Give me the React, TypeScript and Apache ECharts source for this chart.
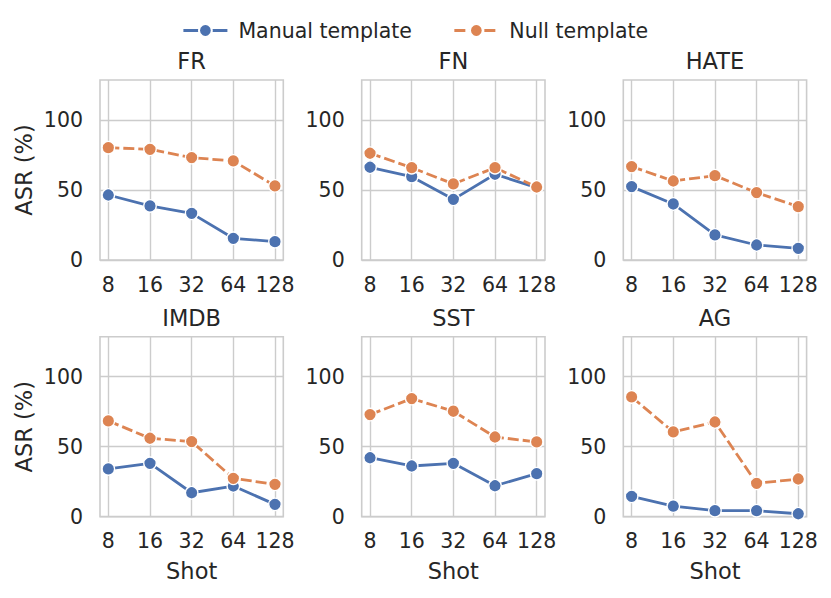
import React, { useEffect, useRef } from "react";
import * as echarts from "echarts";

const shots = ["8", "16", "32", "64", "128"];
const datasets = ["FR", "FN", "HATE", "IMDB", "SST", "AG"];
const seriesNames = ["Manual template", "Null template"];
const yTicks = [0, 50, 100];

const manualFR = [46.4, 38.6, 33.3, 15.5, 13.1];
const nullFR = [80.2, 79.0, 73.1, 70.7, 52.9];
const manualFN = [66.2, 59.5, 43.3, 61.2, 51.7];
const nullFN = [76.2, 65.9, 54.3, 65.9, 52.1];
const manualHATE = [52.4, 40.0, 17.9, 10.7, 8.3];
const nullHATE = [66.7, 56.4, 60.2, 48.1, 38.1];
const manualIMDB = [34.1, 38.1, 17.1, 21.9, 8.8];
const nullIMDB = [68.4, 56.0, 53.6, 27.4, 23.1];
const manualSST = [42.1, 36.2, 38.1, 22.1, 30.7];
const nullSST = [72.9, 84.3, 75.3, 56.9, 53.4];
const manualAG = [14.5, 7.6, 4.3, 4.3, 2.1];
const nullAG = [85.5, 60.5, 67.6, 23.8, 26.9];

const manualAll = [manualFR, manualFN, manualHATE, manualIMDB, manualSST, manualAG];
const nullAll = [nullFR, nullFN, nullHATE, nullIMDB, nullSST, nullAG];

const BLUE = "#4c72b0";
const ORANGE = "#dd8452";
const TEXT = "#262626";
const GRIDC = "#cccccc";
const FONT = "DejaVu Sans";

export default function App() {
  const ref = useRef<HTMLDivElement>(null);
  useEffect(() => {
    if (!ref.current) return;
    const chart = echarts.init(ref.current, undefined, { renderer: "svg" });
    const lefts = [100, 361.7, 623.3];
    const tops = [80, 336.7];
    const W = 183.3;
    const H = 180;
    const grids: any[] = [];
    const xAxes: any[] = [];
    const yAxes: any[] = [];
    const series: any[] = [];
    const graphics: any[] = [];
    const xIdx = shots.map((_, i) => i);
    datasets.forEach((name, k) => {
      const col = k % 3;
      const row = Math.floor(k / 3);
      grids.push({
        left: lefts[col],
        top: tops[row],
        width: W,
        height: H,
        show: true,
        borderColor: GRIDC,
        borderWidth: 1.6,
        backgroundColor: "#fff",
      });
      xAxes.push({
        type: "value",
        gridIndex: k,
        min: -0.2,
        max: 4.2,
        axisLine: { show: false },
        axisTick: { show: false, customValues: xIdx },
        axisLabel: {
          customValues: xIdx,
          formatter: (v: number) => shots[Math.round(v)] ?? "",
          color: TEXT,
          fontFamily: FONT,
          fontSize: 20.5,
          margin: 14,
        },
        splitLine: { show: true, lineStyle: { color: GRIDC, width: 1.4 } },
      });
      yAxes.push({
        type: "value",
        gridIndex: k,
        min: 0,
        max: 128.5,
        interval: 50,
        axisLine: { show: false },
        axisTick: { show: false, customValues: yTicks },
        axisLabel: {
          customValues: yTicks,
          color: TEXT,
          fontFamily: FONT,
          fontSize: 20.5,
          margin: 17,
        },
        splitLine: { show: true, lineStyle: { color: GRIDC, width: 1.4 } },
      });
      const cx = lefts[col] + W / 2;
      graphics.push({
        type: "text",
        x: cx,
        y: tops[row] - 19,
        style: {
          text: name,
          fill: TEXT,
          font: `22.5px "${FONT}"`,
          textAlign: "center",
          textVerticalAlign: "middle",
        },
      });
      series.push({
        type: "line",
        name: seriesNames[0],
        xAxisIndex: k,
        yAxisIndex: k,
        data: manualAll[k].map((v, i) => [i, v]),
        symbol: "circle",
        symbolSize: 12.5,
        lineStyle: { color: BLUE, width: 2.8, type: "solid" },
        itemStyle: { color: BLUE, borderColor: "#fff", borderWidth: 1.3 },
        emphasis: { disabled: true },
      });
      series.push({
        type: "line",
        name: seriesNames[1],
        xAxisIndex: k,
        yAxisIndex: k,
        data: nullAll[k].map((v, i) => [i, v]),
        symbol: "circle",
        symbolSize: 12.5,
        lineStyle: { color: ORANGE, width: 2.8, type: [11, 4] },
        itemStyle: { color: ORANGE, borderColor: "#fff", borderWidth: 1.3 },
        emphasis: { disabled: true },
      });
    });
    [170, 426.7].forEach((y) => {
      graphics.push({
        type: "text",
        x: 24,
        y,
        rotation: Math.PI / 2,
        style: {
          text: "ASR (%)",
          fill: TEXT,
          font: `22.5px "${FONT}"`,
          textAlign: "center",
          textVerticalAlign: "middle",
        },
      });
    });
    lefts.forEach((l) => {
      graphics.push({
        type: "text",
        x: l + W / 2,
        y: 571.3,
        style: {
          text: "Shot",
          fill: TEXT,
          font: `22.5px "${FONT}"`,
          textAlign: "center",
          textVerticalAlign: "middle",
        },
      });
    });
    chart.setOption({
      animation: false,
      backgroundColor: "#fff",
      grid: grids,
      xAxis: xAxes,
      yAxis: yAxes,
      series,
      graphic: graphics,
      legend: {
        data: seriesNames,
        left: 177,
        top: 15,
        itemWidth: 44,
        itemHeight: 16,
        itemGap: 41,
        lineStyle: { width: 2.8 },
        textStyle: {
          color: TEXT,
          fontFamily: FONT,
          fontSize: 20.5,
          padding: [0, 0, 0, 6],
        },
      },
    });
    return () => chart.dispose();
  }, []);
  return (
    <div
      ref={ref}
      style={{ position: "fixed", left: 0, top: 0, width: 831, height: 598 }}
    />
  );
}
